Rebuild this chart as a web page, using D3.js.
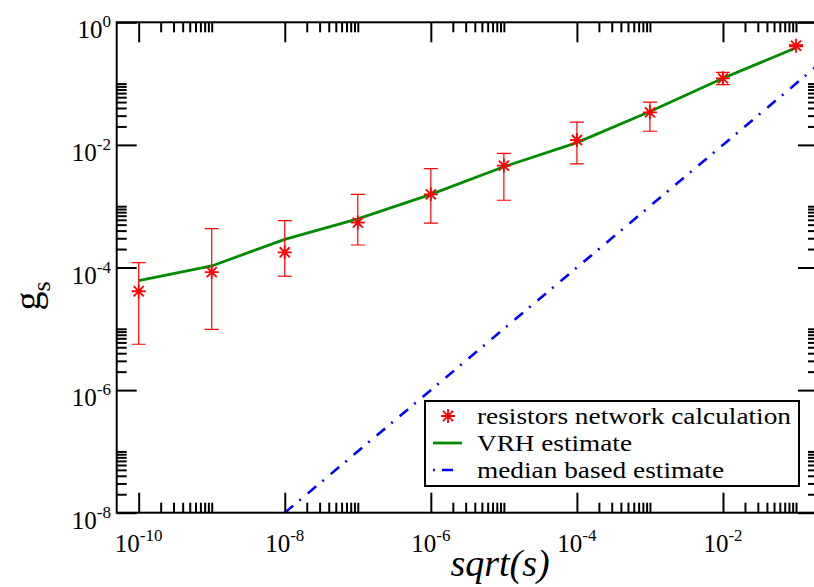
<!DOCTYPE html>
<html>
<head>
<meta charset="utf-8">
<script src="https://cdn.jsdelivr.net/npm/d3@7"></script>
<style>
  body { margin: 0; background: white; }
  svg { display: block; }
  svg text { font-family: 'Liberation Serif', 'DejaVu Serif', 'Times New Roman', Times, serif; }
</style>
</head>
<body>
<div id="chart"></div>
<script>
// data
var sqrt_s = [1e-10, 1e-9, 1e-8, 1e-7, 1e-6, 1e-5, 1e-4, 1e-3, 1e-2, 1e-1];
var g_network = [4.1e-5, 8.4e-5, 1.77e-4, 5.4e-4, 1.56e-3, 4.6e-3, 1.2e-2, 3.4e-2, 0.122, 0.415];
var g_err_hi = [1.2e-4, 4.3e-4, 5.8e-4, 1.56e-3, 4.1e-3, 7.3e-3, 2.36e-2, 5.0e-2, 0.153, 0.43];
var g_err_lo = [5.6e-6, 9.8e-6, 7.2e-5, 2.33e-4, 5.3e-4, 1.25e-3, 4.9e-3, 1.67e-2, 0.096, 0.40];
var g_vrh = [6.1e-5, 1.06e-4, 2.88e-4, 6.2e-4, 1.56e-3, 4.4e-3, 1.09e-2, 3.5e-2, 0.122, 0.385];
var median_x = [1e-8, 0.2];
var median_g = [1e-8, 0.2];

var x_major = [1e-10, 1e-8, 1e-6, 1e-4, 1e-2];
var y_major = [1, 1e-2, 1e-4, 1e-6, 1e-8];
var minor_mult = [2, 3, 4, 5, 6, 7, 8, 9, 10];
var legend_labels = ['resistors network calculation', 'VRH estimate', 'median based estimate'];

var width = 814, height = 587;
var plot = {left: 116.7, right: 818, top: 22.3, bottom: 512.7};
var red = '#ff0000', green = '#008b00', blue = '#0000ff';

var svg = d3.select('#chart').append('svg')
  .attr('width', width)
  .attr('height', height);

var x = d3.scaleLog().domain([5e-11, 0.2]).range([plot.left, plot.right]);
var y = d3.scaleLog().domain([1e-8, 1]).range([plot.bottom, plot.top]);

// minor ticks sit in the decade right above each major
function minors(majors) {
  var out = [];
  majors.forEach(function(m){
    minor_mult.forEach(function(k){ out.push(m * k); });
  });
  return out;
}

svg.append('defs').append('clipPath').attr('id', 'clip')
  .append('rect')
  .attr('x', plot.left).attr('y', plot.top)
  .attr('width', plot.right - plot.left)
  .attr('height', plot.bottom - plot.top);

var data_g = svg.append('g').attr('clip-path', 'url(#clip)');

// median based estimate
data_g.append('path')
  .datum(d3.zip(median_x, median_g))
  .attr('d', d3.line().x(function(d){ return x(d[0]); }).y(function(d){ return y(d[1]); }))
  .style('fill', 'none')
  .style('stroke', blue)
  .style('stroke-width', 2.6)
  .style('stroke-dasharray', '11,8,2,9');

// VRH estimate
data_g.append('path')
  .datum(d3.zip(sqrt_s, g_vrh))
  .attr('d', d3.line().x(function(d){ return x(d[0]); }).y(function(d){ return y(d[1]); }))
  .style('fill', 'none')
  .style('stroke', green)
  .style('stroke-width', 2.8);

// error bars
var cap = 7;
var err = data_g.selectAll('.err')
  .data(d3.range(sqrt_s.length))
  .enter().append('g')
  .attr('class', 'err')
  .style('stroke', red)
  .style('stroke-width', 1.2);

err.append('line')
  .attr('x1', function(i){ return x(sqrt_s[i]); })
  .attr('x2', function(i){ return x(sqrt_s[i]); })
  .attr('y1', function(i){ return y(g_err_lo[i]); })
  .attr('y2', function(i){ return y(g_err_hi[i]); });
err.append('line')
  .attr('x1', function(i){ return x(sqrt_s[i]) - cap; })
  .attr('x2', function(i){ return x(sqrt_s[i]) + cap; })
  .attr('y1', function(i){ return y(g_err_hi[i]); })
  .attr('y2', function(i){ return y(g_err_hi[i]); });
err.append('line')
  .attr('x1', function(i){ return x(sqrt_s[i]) - cap; })
  .attr('x2', function(i){ return x(sqrt_s[i]) + cap; })
  .attr('y1', function(i){ return y(g_err_lo[i]); })
  .attr('y2', function(i){ return y(g_err_lo[i]); });

// star symbol
function star_path(r) {
  var d = r * 0.72;
  return 'M' + (-r) + ',0L' + r + ',0' +
         'M0,' + (-r) + 'L0,' + r +
         'M' + (-d) + ',' + (-d) + 'L' + d + ',' + d +
         'M' + (-d) + ',' + d + 'L' + d + ',' + (-d);
}

data_g.selectAll('.star')
  .data(d3.zip(sqrt_s, g_network))
  .enter().append('path')
  .attr('class', 'star')
  .attr('d', star_path(7))
  .attr('transform', function(d){ return 'translate(' + x(d[0]) + ',' + y(d[1]) + ')'; })
  .style('fill', 'none')
  .style('stroke', red)
  .style('stroke-width', 1.8);

// frame
svg.append('rect')
  .attr('x', plot.left).attr('y', plot.top)
  .attr('width', plot.right - plot.left)
  .attr('height', plot.bottom - plot.top)
  .style('fill', 'none')
  .style('stroke', 'black')
  .style('stroke-width', 2);

// ticks on all four sides, pointing inward
function tick_axis(axis_fn, scale, values, size, translate) {
  var g = svg.append('g')
    .attr('transform', translate)
    .call(axis_fn(scale).tickValues(values).tickSize(-size).tickFormat(''));
  g.select('.domain').remove();
  g.selectAll('.tick line').style('stroke', 'black').style('stroke-width', 2);
}

var x_minor = minors(x_major);
var y_minor = minors(y_major.slice(1));

tick_axis(d3.axisBottom, x, x_major, 20, 'translate(0,' + plot.bottom + ')');
tick_axis(d3.axisBottom, x, x_minor, 10, 'translate(0,' + plot.bottom + ')');
tick_axis(d3.axisTop, x, x_major, 20, 'translate(0,' + plot.top + ')');
tick_axis(d3.axisTop, x, x_minor, 10, 'translate(0,' + plot.top + ')');
tick_axis(d3.axisLeft, y, y_major, 20, 'translate(' + plot.left + ',0)');
tick_axis(d3.axisLeft, y, y_minor, 10, 'translate(' + plot.left + ',0)');
tick_axis(d3.axisRight, y, y_major, 20, 'translate(' + plot.right + ',0)');
tick_axis(d3.axisRight, y, y_minor, 10, 'translate(' + plot.right + ',0)');

// tick labels, 10 with superscript exponent
function pow_label(sel, v) {
  var e = Math.round(Math.log10(v));
  sel.append('tspan').text('10');
  sel.append('tspan')
    .attr('dy', -11)
    .style('font-size', '17px')
    .text(String(e));
}

x_major.forEach(function(v){
  var t = svg.append('text')
    .attr('x', x(v))
    .attr('y', 552)
    .style('font-size', '25px')
    .style('text-anchor', 'middle');
  pow_label(t, v);
});

y_major.forEach(function(v){
  var t = svg.append('text')
    .attr('x', 111)
    .attr('y', y(v) + 16)
    .style('font-size', '25px')
    .style('text-anchor', 'end');
  pow_label(t, v);
});

// axis titles
svg.append('text')
  .attr('x', 500)
  .attr('y', 576)
  .style('font-style', 'italic')
  .style('font-size', '38px')
  .style('text-anchor', 'middle')
  .text('sqrt(s)');

var ylab = svg.append('text')
  .attr('transform', 'translate(40,296) rotate(-90)')
  .style('font-size', '38px')
  .style('text-anchor', 'middle');
ylab.append('tspan').text('g');
ylab.append('tspan').attr('dy', 10).style('font-size', '26px').text('s');

// legend
var legend = svg.append('g');
legend.append('rect')
  .attr('x', 425).attr('y', 401)
  .attr('width', 374).attr('height', 85)
  .style('fill', 'white')
  .style('stroke', 'black')
  .style('stroke-width', 2);

var row_y = [416, 443, 470];
var row_len = [314, 155, 247];   // text widths in the reference legend

legend.append('path')
  .attr('d', star_path(7))
  .attr('transform', 'translate(448,' + row_y[0] + ')')
  .style('fill', 'none')
  .style('stroke', red)
  .style('stroke-width', 1.8);

legend.append('line')
  .attr('x1', 433).attr('x2', 462)
  .attr('y1', row_y[1]).attr('y2', row_y[1])
  .style('stroke', green)
  .style('stroke-width', 2.8);

legend.append('line')
  .attr('x1', 433).attr('x2', 462)
  .attr('y1', row_y[2]).attr('y2', row_y[2])
  .style('stroke', blue)
  .style('stroke-width', 2.6)
  .style('stroke-dasharray', '2,7,11,9');

legend.selectAll('.legend-text')
  .data(legend_labels)
  .enter().append('text')
  .attr('class', 'legend-text')
  .attr('x', 477)
  .attr('y', function(d, i){ return row_y[i] + 8; })
  .attr('textLength', function(d, i){ return row_len[i]; })
  .attr('lengthAdjust', 'spacingAndGlyphs')
  .style('font-size', '23px')
  .text(function(d){ return d; });
</script>
</body>
</html>
